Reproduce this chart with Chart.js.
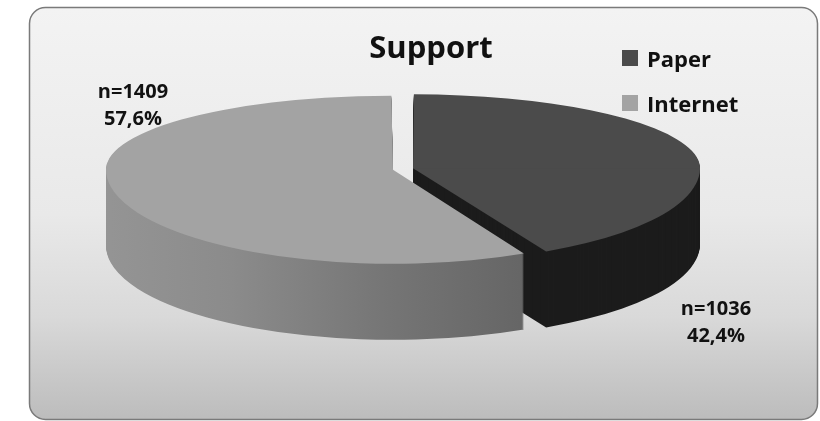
<!DOCTYPE html>
<html>
<head>
<meta charset="utf-8">
<title>Support</title>
<script src="https://cdn.jsdelivr.net/npm/chart.js@4.4.1/dist/chart.umd.min.js"></script>
<style>
  html, body { margin: 0; padding: 0; background: #ffffff; }
  canvas { display: block; }
</style>
</head>
<body>
<canvas id="chart" width="820" height="421"></canvas>
<script>
// ---- data ----
const categories = ['Paper', 'Internet'];
const counts = [1036, 1409];
const topColors = ['#4b4b4b', '#a3a3a3'];

// ---- presentation ----
const FONT = "'Open Sans', 'DejaVu Sans', sans-serif";
// ellipse the flat pie is projected onto (back half flatter than front half) and its thickness
const ELL = { cx: 403, cy: 169, rx: 287, ryBack: 74, ryFront: 94, depth: 76 };
const RADIUS = 150;      // radius of the flat pie in chart units
const EXPLODE_PX = 10;   // horizontal shift of each slice on screen
const labelAnchors = [{ x: 716, y: 315 }, { x: 133, y: 98 }];
const legendPos = { x: 622, y: 50, box: 16, step: 45, textDx: 25, baseDy: 17 };

const total = counts.reduce((a, b) => a + b, 0);
const pctText = v => (v / total * 100).toFixed(1).replace('.', ',') + '%';

function roundRectPath(ctx, x, y, w, h, r) {
  ctx.beginPath();
  ctx.moveTo(x + r, y);
  ctx.lineTo(x + w - r, y);
  ctx.arcTo(x + w, y, x + w, y + r, r);
  ctx.lineTo(x + w, y + h - r);
  ctx.arcTo(x + w, y + h, x + w - r, y + h, r);
  ctx.lineTo(x + r, y + h);
  ctx.arcTo(x, y + h, x, y + h - r, r);
  ctx.lineTo(x, y + r);
  ctx.arcTo(x, y, x + r, y, r);
  ctx.closePath();
}

const pie3d = {
  id: 'pie3d',
  beforeDraw(chart) {
    const ctx = chart.ctx;
    ctx.save();
    roundRectPath(ctx, 29.5, 7.5, 788, 412, 16);
    const g = ctx.createLinearGradient(0, 8, 0, 420);
    g.addColorStop(0, '#f3f3f3');
    g.addColorStop(0.5, '#e9e9e9');
    g.addColorStop(0.75, '#d9d9d9');
    g.addColorStop(1, '#bcbcbc');
    ctx.fillStyle = g;
    ctx.fill();
    ctx.lineWidth = 1.5;
    ctx.strokeStyle = '#7a7a7a';
    ctx.stroke();
    ctx.restore();
  },
  beforeDatasetDraw() {
    return false; // slices are painted below with the projection applied
  },
  afterDatasetsDraw(chart) {
    const ctx = chart.ctx;
    const dpr = chart.currentDevicePixelRatio || 1;
    const arcs = chart.getDatasetMeta(0).data;
    const cx = arcs[0].x, cy = arcs[0].y, R = arcs[0].outerRadius;
    const kx = ELL.rx / R;
    const halves = [
      { ky: ELL.ryBack / R, back: true },
      { ky: ELL.ryFront / R, back: false }
    ];
    const ux = sx => cx + (sx - ELL.cx) / kx;

    const internetSide = ctx.createLinearGradient(ux(107), 0, ux(556), 0);
    internetSide.addColorStop(0, '#959595');
    internetSide.addColorStop(0.3, '#8b8b8b');
    internetSide.addColorStop(0.65, '#757575');
    internetSide.addColorStop(1, '#636363');
    const sideFills = ['#1c1c1c', internetSide];

    const paint = (el, fill, d) => {
      const shade = Object.create(el);
      shade.options = Object.assign({}, el.options, { backgroundColor: fill, borderWidth: 0 });
      // an exploded arc is also drawn larger by its offset; keep every slice at the same radius
      const off = (el.options.offset || 0) / 4;
      shade.outerRadius = el.outerRadius - off * (1 - Math.sin(Math.min(Math.PI, el.circumference)));
      halves.forEach(h => {
        ctx.save();
        ctx.beginPath();
        if (h.back) ctx.rect(0, 0, chart.width, ELL.cy + d + 0.5);
        else ctx.rect(0, ELL.cy + d - 0.5, chart.width, chart.height);
        ctx.clip();
        ctx.setTransform(kx * dpr, 0, 0, h.ky * dpr,
          (ELL.cx - cx * kx) * dpr, (ELL.cy + d - cy * h.ky) * dpr);
        shade.draw(ctx);
        ctx.restore();
      });
    };

    // walls, back slice first
    arcs.forEach((el, i) => {
      for (let d = ELL.depth; d >= 1; d--) paint(el, sideFills[i], d);
    });
    // top faces
    arcs.forEach((el, i) => paint(el, topColors[i], 0));

    // value labels
    ctx.save();
    ctx.fillStyle = '#111111';
    ctx.textAlign = 'center';
    ctx.textBaseline = 'alphabetic';
    ctx.font = 'bold 20px ' + FONT;
    counts.forEach((v, i) => {
      const a = labelAnchors[i];
      ctx.fillText('n=' + v, a.x, a.y);
      ctx.fillText(pctText(v), a.x, a.y + 27);
    });
    ctx.restore();
  },
  afterDraw(chart) {
    const ctx = chart.ctx;
    ctx.save();
    ctx.font = 'bold 22px ' + FONT;
    ctx.textAlign = 'left';
    ctx.textBaseline = 'alphabetic';
    categories.forEach((name, i) => {
      const y = legendPos.y + i * legendPos.step;
      ctx.fillStyle = topColors[i];
      ctx.fillRect(legendPos.x, y, legendPos.box, legendPos.box);
      ctx.fillStyle = '#111111';
      ctx.fillText(name, legendPos.x + legendPos.textDx, y + legendPos.baseDy);
    });
    ctx.restore();
  }
};

new Chart(document.getElementById('chart'), {
  type: 'pie',
  data: {
    labels: categories,
    datasets: [{
      data: counts,
      backgroundColor: topColors,
      borderWidth: 0,
      radius: RADIUS,
      offset: EXPLODE_PX * 4 * RADIUS / ELL.rx / 0.97,
      clip: false
    }]
  },
  options: {
    responsive: false,
    animation: false,
    events: [],
    layout: { padding: { left: 42 } },
    plugins: {
      legend: { display: false },
      tooltip: { enabled: false },
      title: {
        display: true,
        text: 'Support',
        color: '#111111',
        font: { family: FONT, size: 31, weight: 'bold' },
        padding: { top: 31, bottom: 0 }
      }
    }
  },
  plugins: [pie3d]
});
</script>
</body>
</html>
